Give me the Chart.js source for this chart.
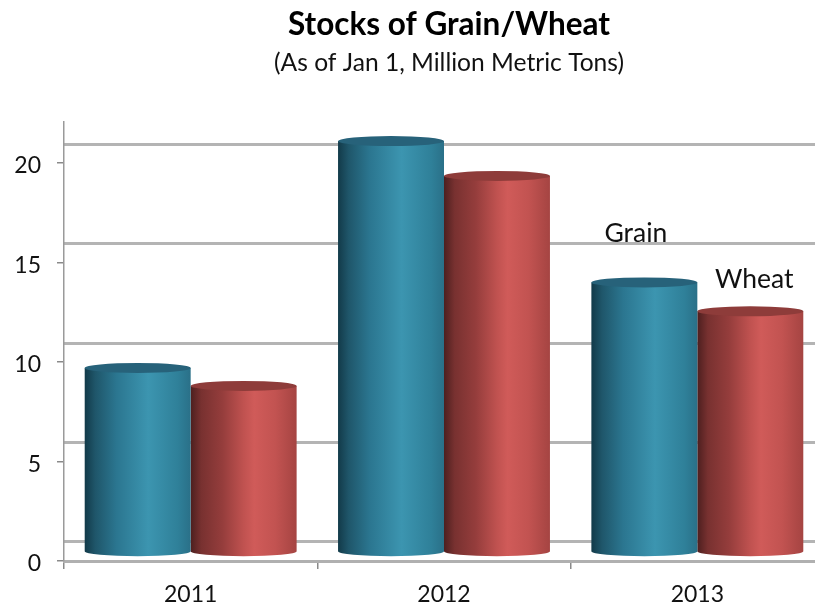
<!DOCTYPE html>
<html><head><meta charset="utf-8">
<style>html,body{margin:0;padding:0;background:#fff;overflow:hidden}#w{width:815px;height:607px;overflow:hidden}canvas{display:block}</style>
<script src="https://cdn.jsdelivr.net/npm/chart.js@4"></script></head>
<body><div id="w"><canvas id="c" width="898" height="607" style="width:898px;height:607px"></canvas></div>
<script>
const categories = ['2011','2012','2013'];
const grain = [9.7,21.1,14.0];
const wheat = [8.8,19.35,12.55];
const yTicks = [0,5,10,15,20];
const titleText = 'Stocks of Grain/Wheat';
const subtitleText = '(As of Jan 1, Million Metric Tons)';
const FONT = 'Lato, Carlito, sans-serif';
const TEAL = [[0,'#123a49'],[0.1,'#1f566a'],[0.3,'#2b7690'],[0.6,'#3c95b0'],[0.88,'#2f8099'],[1,'#2a7088']];
const RED = [[0,'#4d1f1f'],[0.1,'#783130'],[0.3,'#953d3c'],[0.5,'#c05250'],[0.6,'#d05b59'],[0.8,'#c25351'],[1,'#a54442']];
const CAPS = ['#27627a','#8e3c3a'];
const cylinders = {
  id:'cylinders',
  beforeDatasetDraw(chart,args){
    const c = chart.ctx, stops = args.index===0?TEAL:RED;
    args.meta.data.forEach(b=>{
      const l=b.x-b.width/2, r=b.x+b.width/2, ry=5, bottom=b.base-9;
      const g=c.createLinearGradient(l,0,r,0);
      stops.forEach(s=>g.addColorStop(s[0],s[1]));
      c.save();
      c.fillStyle=g;
      c.beginPath();
      c.moveTo(l,b.y);
      c.lineTo(l,bottom);
      c.ellipse(b.x,bottom,b.width/2,ry,0,Math.PI,0,true);
      c.lineTo(r,b.y);
      c.closePath();
      c.fill();
      c.fillStyle=CAPS[args.index];
      c.beginPath();
      c.ellipse(b.x,b.y,b.width/2,ry,0,0,Math.PI*2);
      c.fill();
      c.restore();
    });
    return false;
  },
  afterDatasetsDraw(chart){
    const c=chart.ctx;
    const g=chart.getDatasetMeta(0).data[2], w=chart.getDatasetMeta(1).data[2];
    c.save();
    c.font='26.5px '+FONT;
    c.fillStyle='#111';
    c.textAlign='center';
    c.textBaseline='middle';
    c.fillText('Grain',g.x-8.5,g.y-49);
    c.fillText('Wheat',w.x+4,w.y-32);
    c.restore();
  }
};
new Chart(document.getElementById('c'),{
  type:'bar',
  data:{labels:categories,datasets:[
    {label:'Grain',data:grain,backgroundColor:'#3c95b0',yAxisID:'y',xAxisID:'x'},
    {label:'Wheat',data:wheat,backgroundColor:'#d05b59',yAxisID:'y',xAxisID:'x'}
  ]},
  options:{
    responsive:false,animation:false,
    devicePixelRatio:1,
    layout:{padding:0},
    datasets:{bar:{barPercentage:1,categoryPercentage:0.8365}},
    plugins:{
      legend:{display:false},tooltip:{enabled:false},
      title:{display:true,text:titleText,color:'#000',font:{family:FONT,size:31.5,weight:'bold'},padding:{top:6,bottom:4.6}},
      subtitle:{display:true,text:subtitleText,color:'#111',font:{family:FONT,size:24.6},padding:{top:0,bottom:44.1}}
    },
    scales:{
      x:{
        afterFit(s){s.height=46;},
        grid:{offset:true,drawOnChartArea:false,color:'#8a8a8a',lineWidth:1.5,tickLength:8},
        border:{color:'#b0b0b0',width:3},
        ticks:{color:'#111',font:{family:FONT,size:23},padding:12,maxRotation:0}
      },
      y:{
        min:0,max:22.06,position:'left',
        afterFit(s){s.width=64;},
        afterBuildTicks(s){
          s.ticks=yTicks.map(v=>({value:v}));
          if(!s._shifted){
            s._shifted=true;
            const orig=s._computeLabelItems;
            s._computeLabelItems=function(a){
              const items=orig.call(this,a);
              items.forEach(i=>{i.textOffset=(i.textOffset||0)+3;});
              return items;
            };
          }
        },
        grid:{drawOnChartArea:false,color:'#8a8a8a',lineWidth:1.5,tickLength:7},
        border:{color:'#9a9a9a',width:1.5},
        ticks:{color:'#111',font:{family:FONT,size:23},padding:16}
      },
      back:{
        min:-0.955,max:21.105,position:'right',display:true,
        afterFit(s){s.width=74;},
        afterBuildTicks(s){s.ticks=yTicks.map(v=>({value:v}));},
        grid:{drawOnChartArea:true,drawTicks:false,color:'#b4b4b4',lineWidth:3},
        border:{display:false},
        ticks:{display:false}
      }
    }
  },
  plugins:[cylinders]
});
</script></body></html>
